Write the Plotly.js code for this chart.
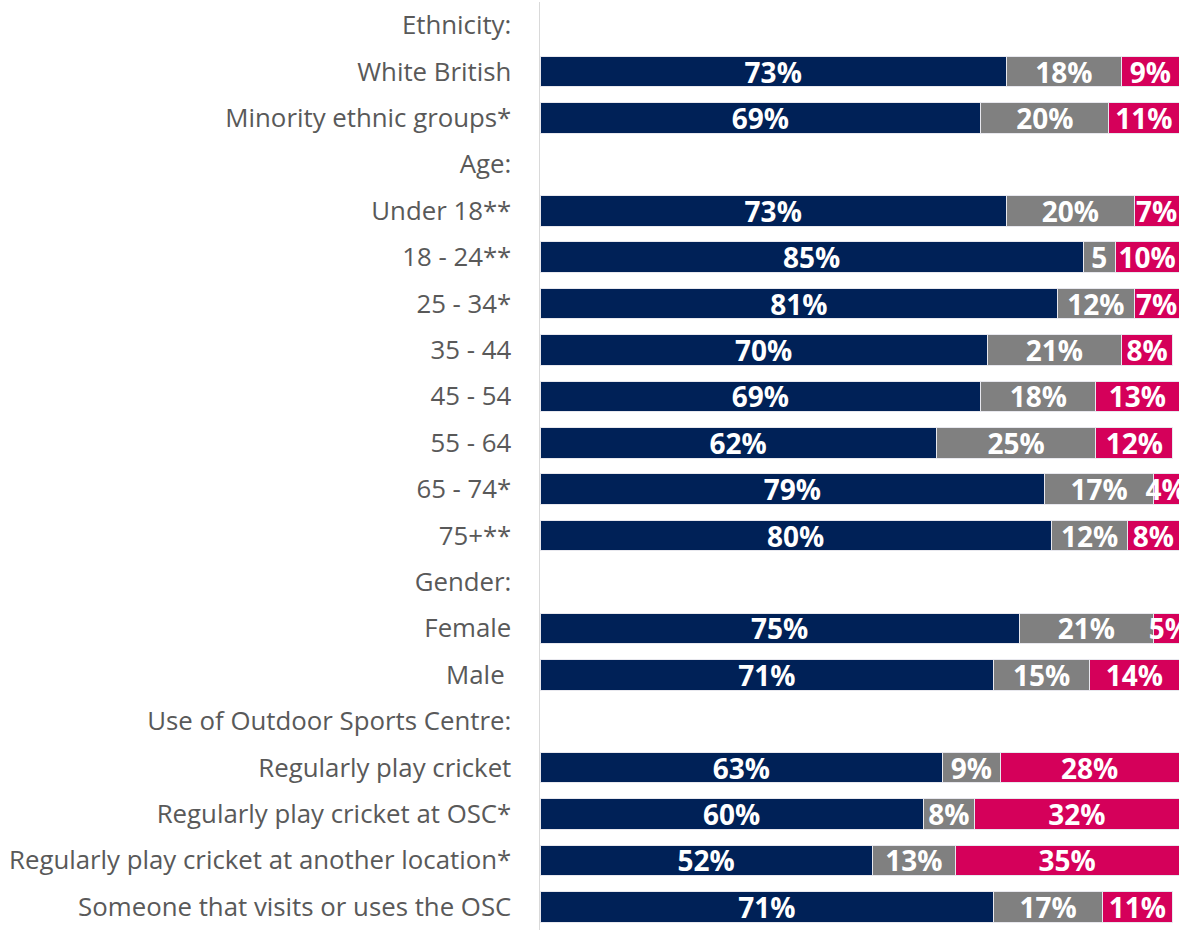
<!DOCTYPE html>
<html>
<head>
<meta charset="utf-8">
<script src="https://cdn.plot.ly/plotly-3.0.1.min.js"></script>
<style>html,body{margin:0;padding:0;background:#fff;}</style>
</head>
<body>
<div id="chart" style="width:1191px;height:930px;"></div>
<script>
const categories = [
  "Ethnicity:", "White British", "Minority ethnic groups*",
  "Age:", "Under 18**", "18 - 24**", "25 - 34*", "35 - 44", "45 - 54", "55 - 64", "65 - 74*", "75+**",
  "Gender:", "Female", "Male ",
  "Use of Outdoor Sports Centre:", "Regularly play cricket", "Regularly play cricket at OSC*",
  "Regularly play cricket at another location*", "Someone that visits or uses the OSC"
];
const seriesNavy = [null, 73, 69, null, 73, 85, 81, 70, 69, 62, 79, 80, null, 75, 71, null, 63, 60, 52, 71];
const seriesGrey = [null, 18, 20, null, 20, 5, 12, 21, 18, 25, 17, 12, null, 21, 15, null, 9, 8, 13, 17];
const seriesRed  = [null, 9, 11, null, 7, 10, 7, 8, 13, 12, 4, 8, null, 5, 14, null, 28, 32, 35, 11];
const labelsNavy = seriesNavy.map(v => v == null ? "" : v + "%");
const labelsGrey = seriesGrey.map((v, i) => v == null ? "" : (categories[i] === "18 - 24**" ? String(v) : v + "%"));
const labelsRed  = seriesRed.map(v => v == null ? "" : v + "%");

function trace(vals, labels, color) {
  return {
    type: "bar", orientation: "h",
    y: categories, x: vals, text: labels,
    textposition: "inside", insidetextanchor: "middle",
    constraintext: "none", textangle: 0,
    textfont: {family: "'Open Sans', 'DejaVu Sans', sans-serif", size: 28, color: "#ffffff", weight: 700},
    marker: {color: color, line: {color: "#e8e8ee", width: 1}},
    hoverinfo: "none", cliponaxis: true
  };
}
const data = [
  trace(seriesNavy, labelsNavy, "#002157"),
  trace(seriesGrey, labelsGrey, "#808080"),
  trace(seriesRed, labelsRed, "#D5005A")
];
const layout = {
  width: 1191, height: 930,
  margin: {l: 540, r: 12, t: 2, b: 0},
  barmode: "stack", bargap: 0.34,
  showlegend: false,
  paper_bgcolor: "#ffffff", plot_bgcolor: "#ffffff",
  xaxis: {range: [0, 100], visible: false, fixedrange: true},
  yaxis: {
    type: "category", autorange: "reversed",
    showline: true, linecolor: "#d9d9d9", linewidth: 1.5,
    showgrid: false, zeroline: false, ticks: "", ticklabelstandoff: 22,
    tickfont: {family: "'Open Sans', 'Liberation Sans', sans-serif", size: 25.8, color: "#595959"}
  },
  font: {family: "'Open Sans', sans-serif"}
};
Plotly.newPlot("chart", data, layout, {displayModeBar: false, staticPlot: true});
</script>
</body>
</html>
